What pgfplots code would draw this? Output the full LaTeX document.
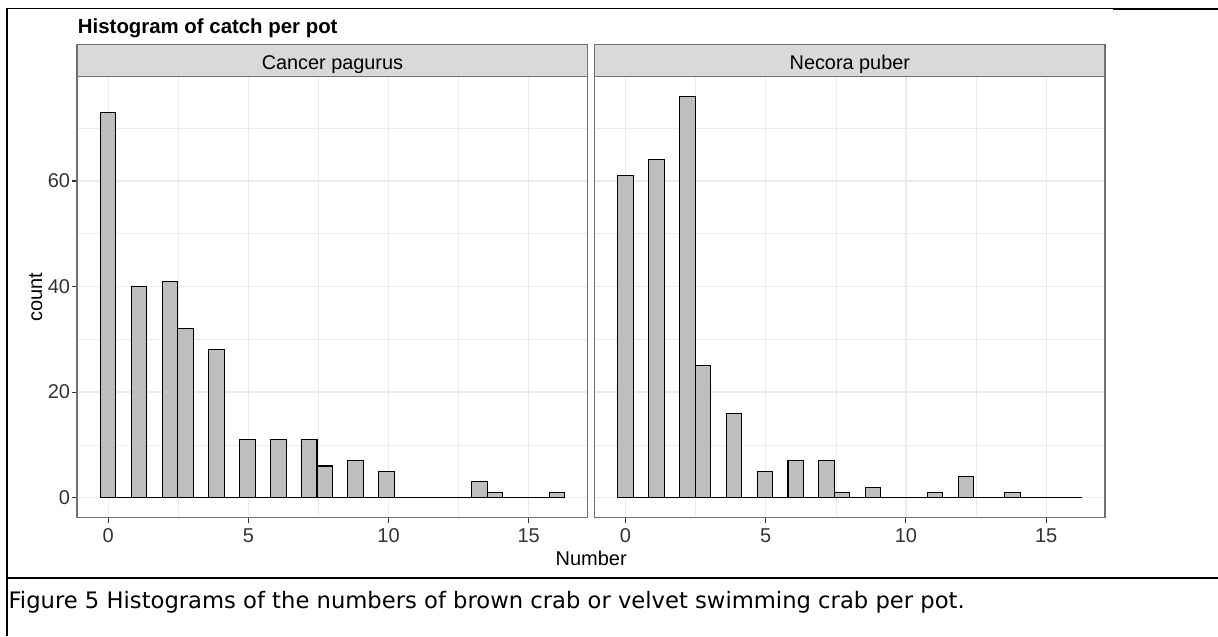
\documentclass[border=0pt]{standalone}
\usepackage{fontspec}
\setmainfont{Liberation Sans}
\newfontfamily\capfont{DejaVu Sans}
\usepackage{pgfplots}
\pgfplotsset{compat=1.18}
\usepackage{pgfplotstable}
\definecolor{barfill}{HTML}{BEBEBE}
\definecolor{stripfill}{HTML}{D9D9D9}
\definecolor{gridc}{HTML}{EBEBEB}
\definecolor{borderc}{HTML}{707070}
\definecolor{tickc}{HTML}{333333}

% bin edges (30 bins, width 16/29) and counts; last row closes the final bin
\pgfplotstableread{
edge count
-0.27586 73
0.27586 0
0.82759 40
1.37931 0
1.93103 41
2.48276 32
3.03448 0
3.58621 28
4.13793 0
4.68966 11
5.24138 0
5.79310 11
6.34483 0
6.89655 11
7.44828 6
8.00000 0
8.55172 7
9.10345 0
9.65517 5
10.20690 0
10.75862 0
11.31034 0
11.86207 0
12.41379 0
12.96552 3
13.51724 1
14.06897 0
14.62069 0
15.17241 0
15.72414 1
16.27586 0
}\cancer

\pgfplotstableread{
edge count
-0.27586 61
0.27586 0
0.82759 64
1.37931 0
1.93103 76
2.48276 25
3.03448 0
3.58621 16
4.13793 0
4.68966 5
5.24138 0
5.79310 7
6.34483 0
6.89655 7
7.44828 1
8.00000 0
8.55172 2
9.10345 0
9.65517 0
10.20690 0
10.75862 1
11.31034 0
11.86207 4
12.41379 0
12.96552 0
13.51724 1
14.06897 0
14.62069 0
15.17241 0
15.72414 0
16.27586 0
}\necora

\pgfplotsset{
  panel/.style={
    scale only axis, width=382.9pt, height=330.9pt, anchor=south west,
    xmin=-1.1035, xmax=17.1035, ymin=-3.8, ymax=79.8,
    xtick={0,5,10,15}, ytick={0,20,40,60},
    minor xtick={2.5,7.5,12.5}, minor ytick={10,30,50,70},
    grid=both,
    major grid style={draw=gridc, line width=0.9pt},
    minor grid style={draw=gridc, line width=0.5pt},
    axis line style={draw=borderc, line width=1.1pt},
    tick align=outside, major tick length=4pt, minor tick length=0pt,
    tick style={draw=tickc, line width=0.8pt},
    xtick pos=left, ytick pos=left,
    /pgf/number format/assume math mode=true,
    ticklabel style={font=\fontsize{15}{17}\selectfont, text=tickc},
    xticklabel style={inner sep=1pt, yshift=-3pt},
    yticklabel style={inner sep=1.2pt},
  }
}

\begin{document}
\begin{tikzpicture}
\path[use as bounding box, fill=white] (0,0) rectangle (913.5pt,477pt);

\begin{axis}[panel, at={(57.9pt,88.725pt)}]
\addplot[ybar interval, fill=barfill, draw=black, line width=0.8pt] table[x=edge,y=count]{\cancer};
\end{axis}

\begin{axis}[panel, at={(445.95pt,88.725pt)}, yticklabels={}, ytick style={draw=none}]
\addplot[ybar interval, fill=barfill, draw=black, line width=0.8pt] table[x=edge,y=count]{\necora};
\end{axis}

\begin{scope}[x=0.75pt, y=-0.75pt, yshift=477pt]
  % strips
  \draw[fill=stripfill, draw=borderc, line width=1.1pt] (77.2,44.3) rectangle (587.7,76.5);
  \draw[fill=stripfill, draw=borderc, line width=1.1pt] (594.6,44.3) rectangle (1105.1,76.5);
  \node[anchor=base, inner sep=0pt, font=\fontsize{14.9}{17}\selectfont] at (332.45,70) {Cancer pagurus};
  \node[anchor=base, inner sep=0pt, font=\fontsize{14.9}{17}\selectfont] at (849.85,70) {Necora puber};
  % title and axis titles
  \node[anchor=base west, inner sep=0pt, font=\bfseries\fontsize{15.3}{18}\selectfont] at (77.7,33.3) {Histogram of catch per pot};
  \node[anchor=base, inner sep=0pt, font=\fontsize{15}{18}\selectfont] at (591.2,565.7) {Number};
  \node[anchor=base, inner sep=0pt, rotate=90, font=\fontsize{15}{18}\selectfont] at (42,297) {count};
  % document frame lines
  \draw[line width=1.5pt] (6.7,8) -- (6.7,636);
  \draw[line width=0.9pt] (6.7,8.3) -- (1113,8.3);
  \draw[line width=1.8pt] (1113,9) -- (1218,9);
  \draw[line width=1.3pt] (6,577.7) -- (1218,577.7);
  % caption
  \node[anchor=base west, inner sep=0pt, font=\capfont\fontsize{17}{20}\selectfont] at (8.3,608.3) {Figure 5 Histograms of the numbers of brown crab or velvet swimming crab per pot.};
\end{scope}
\end{tikzpicture}
\end{document}
